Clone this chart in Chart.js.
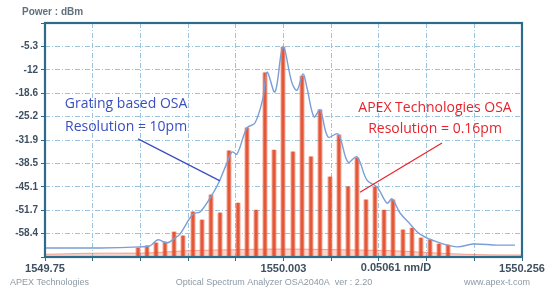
<!DOCTYPE html>
<html><head><meta charset="utf-8">
<script src="https://cdn.jsdelivr.net/npm/chart.js@4.4.1/dist/chart.umd.min.js"></script>
<style>html,body{margin:0;padding:0;background:#fff;overflow:hidden}canvas{display:block}</style>
</head><body>
<canvas id="c" width="555" height="291" style="width:555px;height:291px"></canvas>
<script>
// ---- axis definition (OSA screen: 10 divisions each way) ----
const yRefLevel = 1.33;      // dBm at top of screen
const yPerDiv = 6.63;        // dB / div
const xStart = 1549.75;      // nm at left edge
const xPerDiv = 0.05061;     // nm / div
const yTickLabels = ['-5.3','-12','-18.6','-25.2','-31.9','-38.5','-45.1','-51.7','-58.4'];
const xTickLabels = ['1549.75','','','','','1550.003','','','','','1550.256'];
const spanLabel = '0.05061 nm/D';
const axisTitle = 'Power : dBm';
const footerLeft = 'APEX Technologies';
const footerMid = 'Optical Spectrum Analyzer OSA2040A  ver : 2.20';
const footerRight = 'www.apex-t.com';

// ---- APEX high-resolution OSA: comb lines (nm, dBm) ----
const apexWavelengths = [1549.8487,1549.8582,1549.8678,1549.8773,1549.8869,1549.8964,1549.9070,1549.9166,
  1549.9261,1549.9357,1549.9452,1549.9548,1549.9643,1549.9739,1549.9834,1549.9930,1550.0025,1550.0131,
  1550.0227,1550.0322,1550.0418,1550.0524,1550.0619,1550.0715,1550.0810,1550.0906,1550.1001,1550.1097,
  1550.1192,1550.1298,1550.1394,1550.1489,1550.1585,1550.1680,1550.1776];
const apexPower = [-62.4,-61.8,-61.0,-60.7,-57.9,-59.0,-52.2,-54.5,
  -47.4,-52.5,-34.9,-49.7,-28.4,-51.7,-12.8,-34.7,-5.5,-35.2,
  -13.7,-36.6,-23.3,-42.3,-30.4,-45.1,-36.9,-48.8,-45.1,-51.7,
  -48.8,-57.3,-56.8,-59.6,-60.1,-61.3,-61.6];
// noise floor haze of the APEX trace
const floorWavelengths = [1549.75,1549.80,1549.86,1549.90,1549.95,1550.00,1550.06,1550.12,1550.17,1550.21,1550.2561];
const floorPower = [-64.2,-63.9,-63.8,-63.2,-62.9,-62.7,-62.9,-63.2,-63.9,-64.3,-64.4];

// ---- Grating based OSA trace (nm, dBm) ----
const gratingWavelengths = [1549.750,1549.8084,1549.8508,1549.8614,1549.8699,1549.8794,1549.8879,1549.8932,
  1549.9070,1549.9145,1549.9251,1549.9336,1549.9431,1549.9484,1549.9537,1549.9643,1549.9728,1549.9813,
  1549.9856,1549.9940,1550.0025,1550.0121,1550.0174,1550.0237,1550.0280,1550.0354,1550.0418,1550.0503,
  1550.0609,1550.0715,1550.0810,1550.0916,1550.1023,1550.1129,1550.1182,1550.1267,1550.1373,1550.1479,
  1550.1659,1550.1871,1550.2041,1550.2296,1550.2487];
const gratingPower = [-62.4,-62.4,-62.1,-61.8,-60.1,-61.0,-59.6,-58.5,
  -52.8,-52.2,-48.3,-44.3,-38.3,-35.2,-35.8,-28.4,-27.0,-19.9,
  -12.6,-18.2,-5.5,-15.7,-17.7,-13.1,-17.1,-25.3,-23.3,-31.0,
  -30.1,-38.1,-36.6,-43.2,-45.1,-49.7,-48.5,-52.5,-55.6,-58.5,
  -60.7,-62.1,-61.3,-61.6,-61.6];

// ---- annotations (data units) ----
const gratingNote = {lines:['Grating based OSA','Resolution = 10pm'], x:1549.836, y:[-21.6,-28.1],
  from:{x:1549.8487,y:-31.5}, to:{x:1549.9357,y:-43.4}, color:'#3a4fbf'};
const apexNote = {lines:['APEX Technologies OSA','Resolution = 0.16pm'], x:1550.1638, y:[-22.7,-28.6],
  from:{x:1550.1712,y:-32.7}, to:{x:1550.0842,y:-46.6}, color:'#e8232b'};

const yMin = yRefLevel - 10*yPerDiv, yMax = yRefLevel;
const xMin = xStart, xMax = xStart + 10*xPerDiv;

const apexBars = apexWavelengths.map((w,i)=>({x:w, y:[yMin, apexPower[i]]}));

const decor = {
  id:'decor',
  afterDatasetsDraw(chart){
    const {ctx, chartArea:a, scales:{x,y}} = chart;
    ctx.save();
    ctx.strokeStyle = '#2c6c8a'; ctx.lineWidth = 2.2;
    ctx.strokeRect(a.left, a.top, a.right-a.left, a.bottom-a.top);
    ctx.font = '14px "Open Sans", "Noto Sans", sans-serif';
    ctx.textAlign = 'center'; ctx.textBaseline = 'middle';
    for (const n of [gratingNote, apexNote]) {
      ctx.strokeStyle = n.color; ctx.lineWidth = 1.2;
      ctx.beginPath();
      ctx.moveTo(x.getPixelForValue(n.from.x), y.getPixelForValue(n.from.y));
      ctx.lineTo(x.getPixelForValue(n.to.x), y.getPixelForValue(n.to.y));
      ctx.stroke();
      ctx.fillStyle = n.color;
      n.lines.forEach((t,i)=>ctx.fillText(t, x.getPixelForValue(n.x), y.getPixelForValue(n.y[i])));
    }
    ctx.restore();
  },
  afterDraw(chart){
    const {ctx, chartArea:a, scales:{x}} = chart;
    ctx.save();
    ctx.textBaseline = 'middle';
    ctx.fillStyle = '#5f707e';
    ctx.font = 'bold 10px "Liberation Sans", Arial, sans-serif';
    ctx.textAlign = 'left';
    ctx.fillText(axisTitle, 22, 12);
    ctx.fillStyle = '#3e5060';
    ctx.font = 'bold 11px "Liberation Sans", Arial, sans-serif';
    ctx.textAlign = 'center';
    ctx.fillText(spanLabel, x.getPixelForValue(1550.1224), a.bottom + 11);
    ctx.fillStyle = '#8d9aa6';
    ctx.font = '9px "Liberation Sans", Arial, sans-serif';
    ctx.textAlign = 'left'; ctx.fillText(footerLeft, 10, 283);
    ctx.textAlign = 'center'; ctx.fillText(footerMid, 274, 283);
    ctx.textAlign = 'right'; ctx.fillText(footerRight, 530, 283);
    ctx.restore();
  }
};

const gridDash = [5,2,1,2];
new Chart(document.getElementById('c'), {
  data: {
    datasets: [
      {type:'line', label:'Grating based OSA', data: gratingWavelengths.map((w,i)=>({x:w,y:gratingPower[i]})),
        borderColor:'#7a9fd6', borderWidth:1.4, pointRadius:0, tension:0.35, order:0},
      {type:'bar', label:'APEX core', data: apexBars, backgroundColor:'rgba(226,78,46,0.9)',
        barThickness:2.5, grouped:false, borderWidth:0, order:1},
      {type:'bar', label:'APEX halo', data: apexBars, backgroundColor:'rgba(240,112,80,0.5)',
        barThickness:4.5, grouped:false, borderWidth:0, order:2},
      {type:'line', label:'APEX floor', data: floorWavelengths.map((w,i)=>({x:w,y:floorPower[i]})),
        borderColor:'rgba(232,90,60,0.5)', borderWidth:1, pointRadius:0, tension:0.3,
        fill:'start', backgroundColor:'rgba(240,110,80,0.3)', order:3}
    ]
  },
  options: {
    responsive:false, animation:false,
    plugins:{legend:{display:false}, tooltip:{enabled:false}},
    layout:{padding:{left:0, top:23, right:33, bottom:0}},
    scales:{
      x:{type:'linear', min:xMin, max:xMax, offset:false,
        afterBuildTicks(s){ s.ticks = xTickLabels.map((_,k)=>({value: xStart + k*xPerDiv})); },
        afterFit(s){ s.height = 34; },
        ticks:{autoSkip:false, maxRotation:0, padding:1, color:'#3e5060',
          font:{family:'"Liberation Sans", Arial, sans-serif', size:11, weight:'bold'},
          callback:(v,i)=>xTickLabels[i]},
        grid:{offset:false, color:'#9cc5dd', lineWidth:1, tickLength:4, tickColor:'#2c6c8a'},
        border:{display:false, dash:gridDash}},
      y:{min:yMin, max:yMax,
        afterBuildTicks(s){ s.ticks = Array.from({length:11},(_,k)=>({value: yRefLevel - k*yPerDiv})); },
        afterFit(s){ s.width = 45; },
        ticks:{autoSkip:false, padding:3, color:'#3e5060',
          font:{family:'"Liberation Sans", Arial, sans-serif', size:10, weight:'bold'},
          callback:(v,i)=> (i>=1 && i<=9) ? yTickLabels[i-1] : ''},
        grid:{color:'#9cc5dd', lineWidth:1, tickLength:4, tickColor:'#2c6c8a'},
        border:{display:false, dash:gridDash}}
    }
  },
  plugins:[decor]
});
</script>
</body></html>
